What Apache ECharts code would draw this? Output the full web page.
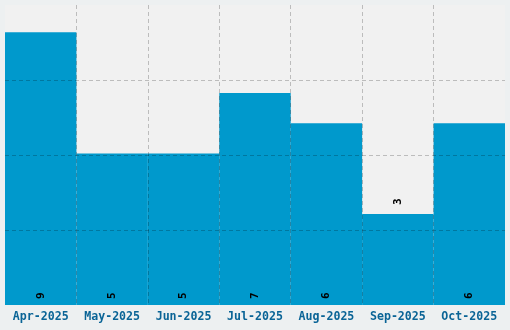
<!DOCTYPE html>
<html><head><meta charset="utf-8">
<script src="https://cdn.jsdelivr.net/npm/echarts@6/dist/echarts.min.js"></script>
<style>html,body{margin:0;padding:0;background:#edf0f1;}#c{width:510px;height:330px;}</style>
</head><body><div id="c"></div>
<script>
const categories = ['Apr-2025','May-2025','Jun-2025','Jul-2025','Aug-2025','Sep-2025','Oct-2025'];
const values = [9, 5, 5, 7, 6, 3, 6];
const labelOutside = [false, false, false, false, false, true, false];

const chart = echarts.init(document.getElementById('c'), null, {renderer: 'canvas'});
const font = '"DejaVu Sans Mono", monospace';
const split = {show: true, showMinLine: false, showMaxLine: false,
  lineStyle: {color: 'rgba(0,0,0,0.22)', width: 1, type: [4, 3]}};
chart.setOption({
  backgroundColor: '#edf0f1',
  animation: false,
  grid: {left: 5, right: 5, top: 5, bottom: 25, show: true, backgroundColor: '#f1f1f1', borderWidth: 0},
  xAxis: {
    type: 'category', data: categories, z: 5,
    axisLine: {show: false}, axisTick: {show: false},
    splitLine: split,
    axisLabel: {color: '#0a6496', fontFamily: font, fontWeight: 'bold', fontSize: 11.6, margin: 6, interval: 0}
  },
  yAxis: {
    type: 'value', min: 0, max: 9.9, interval: 2.475, z: 5,
    axisLine: {show: false}, axisTick: {show: false}, axisLabel: {show: false},
    splitLine: split
  },
  series: [{
    type: 'bar', barCategoryGap: 0, barGap: 0,
    itemStyle: {color: '#0099cc'},
    data: values.map((v, i) => ({
      value: v,
      label: labelOutside[i]
        ? {position: 'top', distance: 9}
        : {position: 'insideBottom', distance: 6}
    })),
    label: {
      show: true, rotate: 90, align: 'left', verticalAlign: 'middle',
      color: '#000', fontFamily: font, fontWeight: 'bold', fontSize: 11
    }
  }]
});
</script></body></html>
